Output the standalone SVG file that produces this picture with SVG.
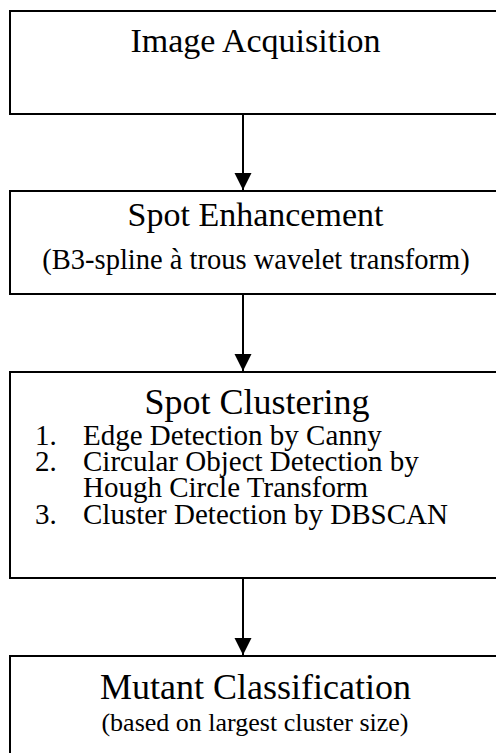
<svg xmlns="http://www.w3.org/2000/svg" width="496" height="753" viewBox="0 0 496 753">
<style>
.box{fill:#fff;stroke:#000;stroke-width:2}
text{font-family:'Liberation Serif','DejaVu Serif',serif;fill:#000}
.title{font-size:34px;text-anchor:middle}
.sub{font-size:28.5px;text-anchor:middle}
.item{font-size:29px}
.conn{stroke:#000;stroke-width:2;fill:none}
</style>
<defs>
<marker id="ah" markerUnits="userSpaceOnUse" markerWidth="18" markerHeight="18" refX="17" refY="9" orient="auto">
<path d="M0,0.5 L17,9 L0,17.5 Z" fill="#000"/>
</marker>
</defs>
<rect width="496" height="753" fill="#fff"/>
<g id="connectors">
<line class="conn" x1="243" y1="114" x2="243" y2="190" marker-end="url(#ah)"/>
<line class="conn" x1="243" y1="294" x2="243" y2="371" marker-end="url(#ah)"/>
<line class="conn" x1="243" y1="578" x2="243" y2="655" marker-end="url(#ah)"/>
</g>
<g id="n1" font-family="Liberation Serif, serif">
<rect class="box" x="10" y="11" width="500" height="103"/>
<text class="title" x="255.5" y="52">Image Acquisition</text>
</g>
<g id="n2" font-family="Liberation Serif, serif">
<rect class="box" x="10" y="191" width="500" height="103"/>
<text class="title" x="255.5" y="226">Spot Enhancement</text>
<text class="sub" x="256" y="269">(B3-spline à trous wavelet transform)</text>
</g>
<g id="n3" font-family="Liberation Serif, serif">
<rect class="box" x="10" y="372" width="500" height="206"/>
<text class="title" x="257" y="414" style="font-size:36px">Spot Clustering</text>
<text class="item" x="35" y="445">1.</text>
<text class="item" x="83" y="445">Edge Detection by Canny</text>
<text class="item" x="35" y="471">2.</text>
<text class="item" x="83" y="471">Circular Object Detection by</text>
<text class="item" x="83" y="497">Hough Circle Transform</text>
<text class="item" x="35" y="524">3.</text>
<text class="item" x="83" y="524">Cluster Detection by DBSCAN</text>
</g>
<g id="n4" font-family="Liberation Serif, serif">
<rect class="box" x="10" y="656" width="500" height="120"/>
<text class="title" x="255.5" y="699" style="font-size:36px">Mutant Classification</text>
<text class="sub" x="255" y="731" style="font-size:26px">(based on largest cluster size)</text>
</g>
</svg>
